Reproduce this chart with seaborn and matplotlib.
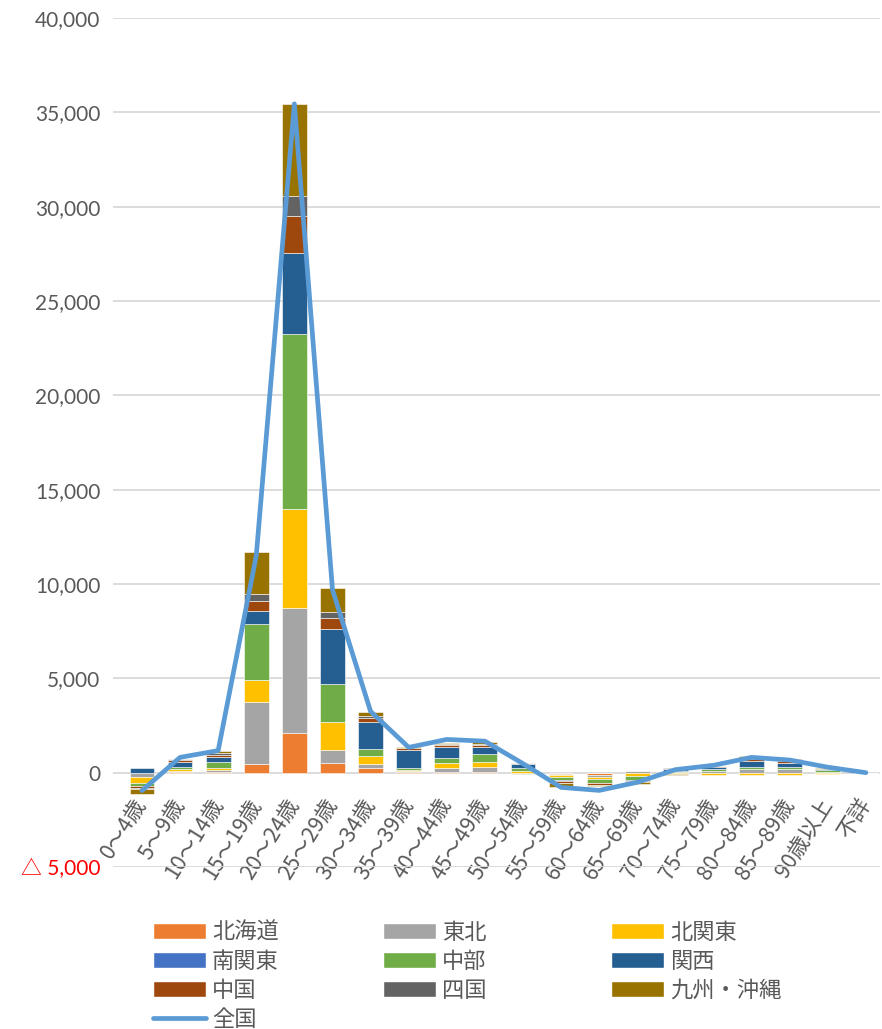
import numpy as np
import matplotlib
matplotlib.use('Agg')
import matplotlib.pyplot as plt
import seaborn as sns
from matplotlib.patches import Patch
from matplotlib.lines import Line2D

# age groups
ages = ['0～4歳', '5～9歳', '10～14歳', '15～19歳', '20～24歳', '25～29歳', '30～34歳',
        '35～39歳', '40～44歳', '45～49歳', '50～54歳', '55～59歳', '60～64歳', '65～69歳',
        '70～74歳', '75～79歳', '80～84歳', '85～89歳', '90歳以上', '不詳']

# values by region
hokkaido = [-20, 20, 20, 460, 2100, 510, 230, 30, 30, 40, -30, -60, -100, -20, 0, -20, -20, -20, -20, 0]
tohoku = [-210, 90, 120, 3310, 6620, 670, 210, 40, 220, 270, -40, -80, -110, 70, 30, 70, 200, 180, 60, 0]
kitakanto = [-320, 90, 130, 1160, 5270, 1490, 460, 60, 270, 260, 100, -110, -110, -170, -80, -90, -90, -90, -60, 0]
minamikanto = [0] * 20
chubu = [-180, 90, 300, 2960, 9250, 2010, 370, 110, 260, 430, 170, -130, -210, -180, 40, 110, 120, 130, 60, 0]
kansai = [230, 280, 270, 690, 4310, 2920, 1440, 980, 590, 350, 170, -60, -30, -60, 130, 140, 300, 210, 70, 0]
chugoku = [-90, 90, 110, 545, 1960, 590, 170, 80, 90, 120, 30, -90, -90, -40, 20, 20, 110, 100, 20, 0]
shikoku = [-50, 40, 70, 355, 1060, 330, 130, 30, 40, 40, 20, -40, -20, -30, 10, 10, 40, 30, 10, 0]
kyushu = [-250, 40, 110, 2210, 4850, 1290, 210, 40, 50, 90, 40, -200, -20, -100, -40, 20, 90, 90, 20, 0]
zenkoku = [-950, 810, 1170, 11500, 35450, 9700, 3250, 1340, 1760, 1670, 480, -780, -940, -510, 160, 390, 810, 670, 290, 0]

regions = ['北海道', '東北', '北関東', '南関東', '中部', '関西', '中国', '四国', '九州・沖縄']
series = [hokkaido, tohoku, kitakanto, minamikanto, chubu, kansai, chugoku, shikoku, kyushu]
colors = ['#ED7D31', '#A5A5A5', '#FFC000', '#4472C4', '#70AD47', '#255E91', '#9E480E', '#636363', '#997300']
line_color = '#5B9BD5'

yticks = list(range(-5000, 40001, 5000))
ytick_labels = ['△ 5,000'] + [f'{v:,}' for v in yticks[1:]]

sns.set_theme(style='white')
plt.rcParams['font.family'] = ['Noto Sans CJK JP', 'DejaVu Sans']

fig = plt.figure(figsize=(8.82, 10.29), dpi=100)
ax = fig.add_axes([113 / 882, 1 - 867 / 1029, 767 / 882, 849 / 1029])

x = np.arange(len(ages))
pos_bottom = np.zeros(len(ages))
neg_bottom = np.zeros(len(ages))
for vals, col in zip(series, colors):
    v = np.array(vals, dtype=float)
    bottom = np.where(v >= 0, pos_bottom, neg_bottom)
    ax.bar(x, v, bottom=bottom, width=0.65, color=col, edgecolor='white', linewidth=0.4, zorder=2)
    pos_bottom += np.where(v > 0, v, 0)
    neg_bottom += np.where(v < 0, v, 0)

sns.lineplot(x=x, y=zenkoku, ax=ax, color=line_color, linewidth=3.4, zorder=3,
             solid_capstyle='round', solid_joinstyle='round')

# axes styling
sns.despine(ax=ax, left=True, bottom=True)
# category labels sit under the zero line (set before the tick labels)
ax.spines['bottom'].set_position(('data', 0))
ax.set_xlim(-0.76, 19.37)
ax.set_ylim(-5000, 40000)
ax.set_yticks(yticks)
ax.set_yticklabels(ytick_labels, family=['Lato', 'Noto Sans CJK JP'], fontsize=15, color='#595959')
ax.get_yticklabels()[0].set_color('red')
ax.set_xticks(x)
ax.set_xticklabels(ages, rotation=58, ha='right', va='center', rotation_mode='anchor',
                   fontsize=15.5, color='#595959')
ax.tick_params(axis='both', length=0)
ax.tick_params(axis='y', pad=9)
ax.tick_params(axis='x', pad=20)
ax.yaxis.grid(True, color='#D9D9D9', linewidth=1.3, zorder=0)
ax.xaxis.grid(False)
ax.set_axisbelow(True)

# legend: three columns placed like the original
cols = [
    [(regions[0], colors[0]), (regions[3], colors[3]), (regions[6], colors[6]), ('全国', None)],
    [(regions[1], colors[1]), (regions[4], colors[4]), (regions[7], colors[7])],
    [(regions[2], colors[2]), (regions[5], colors[5]), (regions[8], colors[8])],
]
col_x = [153, 383, 611]
for items, cx in zip(cols, col_x):
    handles = []
    for name, col in items:
        if col is None:
            handles.append(Line2D([], [], color=line_color, linewidth=3.4, solid_capstyle='round', label=name))
        else:
            handles.append(Patch(facecolor=col, label=name))
    fig.legend(handles=handles, loc='upper left', bbox_to_anchor=(cx / 882, 1 - 921 / 1029),
               frameon=False, fontsize=16, labelcolor='#595959', handlelength=2.4,
               handleheight=0.7, handletextpad=0.25, labelspacing=0.27,
               borderpad=0, borderaxespad=0)

fig.savefig('out.png', dpi=100)
